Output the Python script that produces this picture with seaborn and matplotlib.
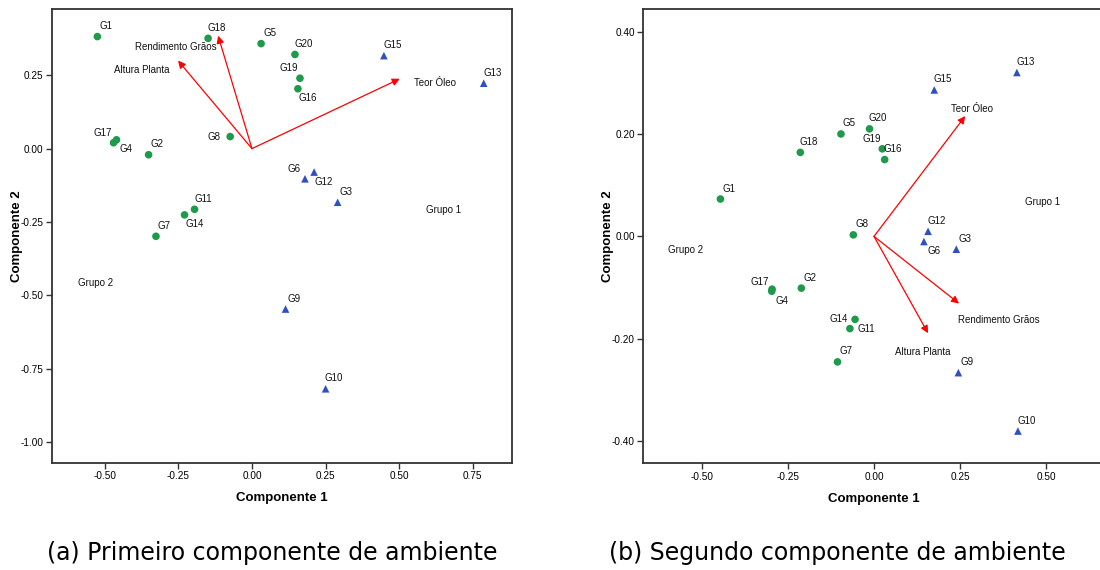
import matplotlib
matplotlib.use("Agg")
import matplotlib.pyplot as plt
import seaborn as sns
import pandas as pd

# ---- Panel (a): first environment component ----
genotypes = ["G1", "G2", "G3", "G4", "G5", "G6", "G7", "G8", "G9", "G10",
             "G11", "G12", "G13", "G14", "G15", "G16", "G17", "G18", "G19", "G20"]
groups = ["Grupo 2", "Grupo 2", "Grupo 1", "Grupo 2", "Grupo 2", "Grupo 1", "Grupo 2",
          "Grupo 2", "Grupo 1", "Grupo 1", "Grupo 2", "Grupo 1", "Grupo 1", "Grupo 2",
          "Grupo 1", "Grupo 2", "Grupo 2", "Grupo 2", "Grupo 2", "Grupo 2"]

a_comp1 = [-0.525, -0.351, 0.291, -0.460, 0.031, 0.180, -0.326, -0.074, 0.114, 0.250,
           -0.195, 0.211, 0.787, -0.229, 0.448, 0.156, -0.470, -0.149, 0.163, 0.146]
a_comp2 = [0.382, -0.021, -0.183, 0.030, 0.358, -0.103, -0.299, 0.041, -0.547, -0.819,
           -0.207, -0.080, 0.223, -0.226, 0.317, 0.204, 0.020, 0.376, 0.240, 0.321]

# ---- Panel (b): second environment component ----
b_comp1 = [-0.446, -0.211, 0.239, -0.297, -0.096, 0.145, -0.106, -0.060, 0.245, 0.418,
           -0.070, 0.157, 0.415, -0.055, 0.175, 0.031, -0.296, -0.214, 0.024, -0.013]
b_comp2 = [0.073, -0.101, -0.025, -0.107, 0.200, -0.010, -0.245, 0.003, -0.266, -0.380,
           -0.180, 0.010, 0.320, -0.162, 0.286, 0.150, -0.103, 0.164, 0.171, 0.210]

# Trait loading vectors
traits = ["Rendimento Grãos", "Altura Planta", "Teor Óleo"]
a_load1 = [-0.115, -0.251, 0.502]
a_load2 = [0.385, 0.300, 0.238]
b_load1 = [0.247, 0.157, 0.265]
b_load2 = [-0.131, -0.189, 0.235]

x_ticks_a = [-0.50, -0.25, 0.00, 0.25, 0.50, 0.75]
y_ticks_a = [-1.00, -0.75, -0.50, -0.25, 0.00, 0.25]
x_ticks_b = [-0.50, -0.25, 0.00, 0.25, 0.50]
y_ticks_b = [-0.40, -0.20, 0.00, 0.20, 0.40]

captions = ["(a) Primeiro componente de ambiente", "(b) Segundo componente de ambiente"]

# Label placement around each marker (pixel offsets: right, down)
NE, NW, SE, W, E = (8.5, -10.5), (-11, -10), (10, 9.5), (-16, 0), (16, 0)
offsets_a = {"G1": NE, "G2": NE, "G3": NE, "G4": SE, "G5": NE, "G6": NW, "G7": NE,
             "G8": W, "G9": NE, "G10": NE, "G11": NE, "G12": SE, "G13": NE, "G14": SE,
             "G15": NE, "G16": SE, "G17": NW, "G18": NE, "G19": NW, "G20": NE}
offsets_b = {"G1": NE, "G2": NE, "G3": NE, "G4": SE, "G5": NE, "G6": SE, "G7": NE,
             "G8": NE, "G9": NE, "G10": NE, "G11": E, "G12": NE, "G13": NE, "G14": W,
             "G15": NE, "G16": NE, "G17": (-12, -7), "G18": NE, "G19": NW, "G20": NE}

# Free text positions (data coordinates) for trait and group names
trait_text_a = [(-0.257, 0.346), (-0.373, 0.268), (0.621, 0.223)]
trait_text_b = [(0.362, -0.164), (0.141, -0.226), (0.284, 0.249)]
group_text_a = {"Grupo 1": (0.649, -0.209), "Grupo 2": (-0.532, -0.457)}
group_text_b = {"Grupo 1": (0.490, 0.067), "Grupo 2": (-0.546, -0.027)}

sns.set_theme(style="ticks")
NARROW = ["Liberation Sans Narrow", "Liberation Sans", "DejaVu Sans"]
plt.rcParams["font.family"] = NARROW
plt.rcParams.update({"text.color": "black", "axes.labelcolor": "black",
                     "xtick.labelcolor": "black", "ytick.labelcolor": "black"})

palette = {"Grupo 1": "#3050bf", "Grupo 2": "#1e9a4a"}
markers = {"Grupo 1": "^", "Grupo 2": "o"}

fig = plt.figure(figsize=(11, 5.7), dpi=100)
W_PX, H_PX = 1100, 570


def px_axes(left, top, width, height):
    return fig.add_axes([left / W_PX, 1 - (top + height) / H_PX, width / W_PX, height / H_PX])


ax_a = px_axes(52, 9, 460, 454)
ax_b = px_axes(643.3, 9, 461.4, 454.3)


def draw(ax, c1, c2, l1, l2, offsets, trait_pos, group_pos, xlim, ylim, xticks, yticks, fmt):
    df = pd.DataFrame({"c1": c1, "c2": c2, "grupo": groups, "g": genotypes})
    sns.scatterplot(data=df, x="c1", y="c2", hue="grupo", style="grupo",
                    palette=palette, markers=markers, s=30, linewidth=0,
                    legend=False, ax=ax, zorder=3)
    for name, x, y in zip(genotypes, c1, c2):
        dx, dy = offsets[name]
        ax.annotate(name, (x, y), xytext=(dx * 0.72, -dy * 0.72), textcoords="offset points",
                    ha="center", va="center", fontsize=7, color="#111111")
    for name, lx, ly, (tx, ty) in zip(traits, l1, l2, trait_pos):
        ax.annotate("", xy=(lx, ly), xytext=(0, 0),
                    arrowprops=dict(arrowstyle="-|>", color="#ff0000", lw=0.9,
                                    mutation_scale=11, shrinkA=0, shrinkB=0), zorder=2)
        ax.text(tx, ty, name, ha="center", va="center", fontsize=7, color="#111111")
    for name, (gx, gy) in group_pos.items():
        ax.text(gx, gy, name, ha="center", va="center", fontsize=7, color="#111111")
    ax.set_xlim(*xlim)
    ax.set_ylim(*ylim)
    ax.set_xticks(xticks)
    ax.set_yticks(yticks)
    ax.set_xticklabels([fmt.format(v) for v in xticks], fontsize=7.2)
    ax.set_yticklabels([fmt.format(v) for v in yticks], fontsize=7.2)
    ax.set_xlabel("Componente 1", fontsize=9.5, fontweight="bold",
                  family=["Liberation Sans", "DejaVu Sans"], labelpad=8)
    ax.set_ylabel("Componente 2", fontsize=9.5, fontweight="bold",
                  family=["Liberation Sans", "DejaVu Sans"], labelpad=-1.5)
    for sp in ax.spines.values():
        sp.set_color("#333333")
        sp.set_linewidth(1.3)
    ax.tick_params(direction="out", length=4, width=1, color="#333333", pad=2)


draw(ax_a, a_comp1, a_comp2, a_load1, a_load2, offsets_a, trait_text_a, group_text_a,
     (-0.679, 0.883), (-1.072, 0.476), x_ticks_a, y_ticks_a, "{:.2f}")
draw(ax_b, b_comp1, b_comp2, b_load1, b_load2, offsets_b, trait_text_b, group_text_b,
     (-0.67, 0.67), (-0.443, 0.444), x_ticks_b, y_ticks_b, "{:.2f}")

fig.text(272 / W_PX, 1 - 553 / H_PX, captions[0], ha="center", va="center",
         fontsize=17, family=["DejaVu Sans"], color="black")
fig.text(837 / W_PX, 1 - 553 / H_PX, captions[1], ha="center", va="center",
         fontsize=17, family=["DejaVu Sans"], color="black")

fig.savefig("out.png", dpi=100)
